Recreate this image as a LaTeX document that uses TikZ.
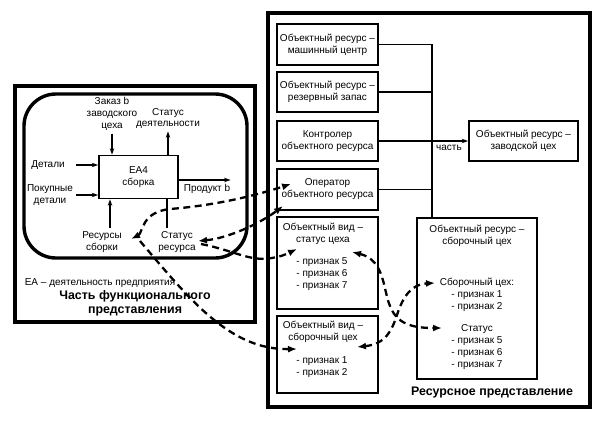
\documentclass[tikz,border=0pt]{standalone}
\usepackage{fontspec}
\setmainfont{Liberation Sans}
\usetikzlibrary{arrows.meta}

\tikzset{
  txt/.style={align=center, inner sep=0pt, font=\fontsize{10}{12}\selectfont},
  bigtxt/.style={align=center, inner sep=0pt, font=\fontsize{12.4}{14}\selectfont\bfseries},
  box/.style={txt, draw, line width=1.7pt, minimum width=101pt},
  flow/.style={line width=1.1pt, -{Stealth[length=6.5pt,width=4.5pt]}},
  bus/.style={line width=1.5pt},
  link/.style={line width=2.3pt, dash pattern=on 7pt off 4.5pt}
}

\begin{document}
\begin{tikzpicture}[x=1pt,y=-1pt,thick,>={Latex[length=9pt,width=7pt]}]
    \useasboundingbox (0,0) rectangle (599,421);
    % functional part
    \draw[line width=3.4pt] (15,86) rectangle (255,322);
    \draw[line width=3.4pt, rounded corners=32pt] (24,94) rectangle (247,258);
    \node[box, minimum width=79pt, minimum height=43pt] (ea) at (138.5,177) {EA4\\сборка};
    \node[txt] (det) at (48,165) {Детали}; \node[txt] (pok) at (50,195) {Покупные\\детали};
    \node[txt] (zak) at (112,113.5) {Заказ b\\заводского\\цеха};
    \node[txt] (sd) at (168,118.5) {Статус\\деятельности};
    \node[txt] (prod) at (207,189) {Продукт b};
    \node[txt] (rs) at (102,242.5) {Ресурсы\\сборки}; \node[txt] (sr) at (177,242.5) {Статус\\ресурса};
    \node[txt] (ean) at (100,283) {EA – деятельность предприятия};
    \node[bigtxt] (fp) at (135,303) {Часть функционального\\представления};
    \draw[flow] ([xshift=-22pt]ea.west |- det.east) -- (ea.west |- det.east);
    \draw[flow] ([xshift=-22pt]ea.west |- pok.east) -- (ea.west |- pok.east);
    \draw[flow] ([yshift=-3pt]zak.south) -- (zak.south |- ea.north);
    \draw[flow] (sd.south |- ea.north) -- ([yshift=-2pt]sd.south);
    \draw[flow] ([yshift=-3pt]ea.east) -- ([yshift=-3pt]ea.east -| prod.east);
    \draw[flow] ([xshift=8pt,yshift=4pt]rs.north) -- ([xshift=8pt]rs.north |- ea.south);
    \draw[line width=1.1pt] ([xshift=-10pt]sr.north |- ea.south) -- ([xshift=-10pt,yshift=4pt]sr.north);
    % resource part
    \draw[line width=3.4pt] (268,13) rectangle (590,407);
    \node[box, minimum height=41pt] (mc) at (327.5,44.5) {Объектный ресурс –\\машинный центр};
    \node[box, minimum height=40pt] (rz) at (327.5,92) {Объектный ресурс –\\резервный запас};
    \node[box, minimum height=40pt] (kr) at (327.5,141) {Контролер\\объектного ресурса};
    \node[box, minimum height=41pt] (op) at (327.5,189.5) {Оператор\\объектного ресурса};
    \node[box, minimum height=92pt] (vs) at (327.5,263) {};
    \node[box, minimum height=77pt] (vb) at (327.5,354.5) {};
    \node[box, minimum width=120pt, minimum height=161pt] (asm) at (477,298.5) {};
    \node[box, minimum width=109pt, minimum height=40pt] (zc) at (523.5,141) {Объектный ресурс –\\заводской цех};
    \node[txt] (vst) at (323,234) {Объектный вид –\\статус цеха};
    \node[txt] (vsp) at (322,274) {- признак 5\\- признак 6\\- признак 7};
    \node[txt] (vbt) at (323,332) {Объектный вид –\\сборочный цех};
    \node[txt] (vbp) at (322,367) {- признак 1\\- признак 2};
    \node[txt] (asmt) at (477,236) {Объектный ресурс –\\сборочный цех};
    \node[txt] (asma) at (477,294.5) {Сборочный цех:\\- признак 1\\- признак 2};
    \node[txt] (asmb) at (477,347) {Статус\\- признак 5\\- признак 6\\- признак 7};
    \node[bigtxt] (rp) at (492,393) {Ресурсное представление};
    \coordinate (bt) at (432,44.5);
    \draw[bus] (mc.east) -- (bt) -- (bt |- asm.north);
    \draw[bus] (rz.east) -- (rz.east -| bt); \draw[bus] (op.east) -- (op.east -| bt);
    \draw[bus, -{Stealth[length=6.5pt,width=4.5pt]}] (kr.east) -- (zc.west);
    \node[txt] (part) at (449,148) {часть};
    % links between the two parts
    \coordinate (a1) at (131,239); \coordinate (o1) at (291,184);
    \coordinate (s1) at (198,241); \coordinate (o2) at (283,206);
    \coordinate (s2) at (201,244); \coordinate (v1) at (297,249);
    \coordinate (r2) at (140,241); \coordinate (b1) at (297,349);
    \coordinate (v2) at (352,252); \coordinate (g2) at (442,328);
    \coordinate (b2) at (357,347); \coordinate (g1) at (435,283);
    \draw[link,<->] (a1) .. controls (143,233) and (141,212) .. (170,209) .. controls (220,205) and (260,194) .. (o1);
    \draw[link,<->] (s1) .. controls (230,238) and (262,222) .. (o2);
    \draw[link,->] (s2) .. controls (236,251) and (250,262) .. (272,258) .. controls (282,256) .. (v1);
    \draw[link,->] (r2) .. controls (190,300) and (230,350) .. (b1);
    \draw[link,<->] (v2) .. controls (385,260) and (383,290) .. (390,306) .. controls (397,324) and (412,328) .. (g2);
    \draw[link,<->] (b2) .. controls (386,344) and (392,330) .. (397,315) .. controls (403,296) and (412,284) .. (g1);
\end{tikzpicture}
\end{document}
